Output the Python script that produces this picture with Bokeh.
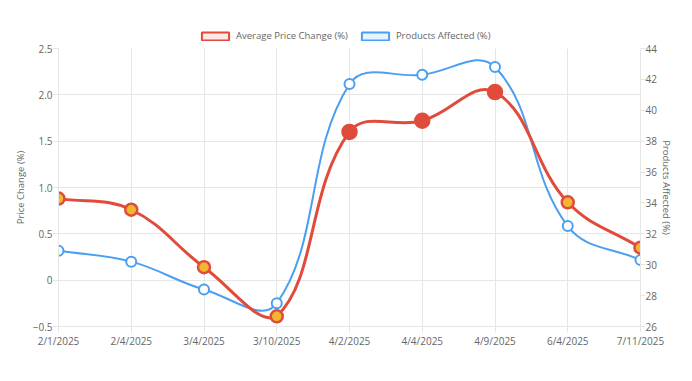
import numpy as np
from bokeh.plotting import figure
from bokeh.layouts import column
from bokeh.models import (Range1d, LinearAxis, Legend, LegendItem, ColumnDataSource,
                          FixedTicker, SingleIntervalTicker)
from bokeh.embed import file_html
from bokeh.resources import INLINE

dates = ["2/1/2025", "2/4/2025", "3/4/2025", "3/10/2025", "4/2/2025",
         "4/4/2025", "4/9/2025", "6/4/2025", "7/11/2025"]
price_change = [0.88, 0.76, 0.14, -0.39, 1.60, 1.72, 2.03, 0.84, 0.35]
products_affected = [30.9, 30.2, 28.4, 27.5, 41.7, 42.3, 42.8, 32.5, 30.3]

RED = "#e04b3b"
BLUE = "#4a9ff0"
YELLOW = "#f3b72f"
GRID = "#e6e6e6"
TXT = "#666666"
FONT = "Open Sans"

x = list(range(len(dates)))

W = 687
LEG_H = 42
p = figure(width=W, height=365 - LEG_H, output_backend="svg", toolbar_location=None,
           x_range=Range1d(0, len(dates) - 1), y_range=Range1d(-0.5, 2.5),
           min_border_left=58, min_border_right=47, min_border_top=48 - LEG_H,
           min_border_bottom=39)
p.extra_y_ranges = {"right": Range1d(26, 44)}
p.outline_line_color = None
p.background_fill_color = "white"
p.border_fill_color = "white"


def spline_controls(vals, sx, sy, t=0.4):
    pts = [(i * sx, v * sy) for i, v in enumerate(vals)]
    n = len(pts)
    prev_c, next_c = [], []
    for i in range(n):
        cur = pts[i]
        pr = pts[i - 1] if i > 0 else cur
        nx = pts[i + 1] if i < n - 1 else cur
        d01 = float(np.hypot(cur[0] - pr[0], cur[1] - pr[1]))
        d12 = float(np.hypot(nx[0] - cur[0], nx[1] - cur[1]))
        s = d01 + d12
        s01 = d01 / s if s else 0
        s12 = d12 / s if s else 0
        fa, fb = t * s01, t * s12
        prev_c.append(((cur[0] - fa * (nx[0] - pr[0])) / sx, (cur[1] - fa * (nx[1] - pr[1])) / sy))
        next_c.append(((cur[0] + fb * (nx[0] - pr[0])) / sx, (cur[1] + fb * (nx[1] - pr[1])) / sy))
    return prev_c, next_c


def add_curve(vals, sx, sy, lo, hi, color, width, rng=None):
    prev_c, next_c = spline_controls(vals, sx, sy)
    n = len(vals)
    src = ColumnDataSource(dict(
        x0=list(range(n - 1)), y0=vals[:-1], x1=list(range(1, n)), y1=vals[1:],
        cx0=[c[0] for c in next_c[:-1]], cy0=[min(max(c[1], lo), hi) for c in next_c[:-1]],
        cx1=[c[0] for c in prev_c[1:]], cy1=[min(max(c[1], lo), hi) for c in prev_c[1:]]))
    kw = dict(y_range_name=rng) if rng else {}
    p.bezier(x0="x0", y0="y0", x1="x1", y1="y1", cx0="cx0", cy0="cy0", cx1="cx1", cy1="cy1",
             source=src, line_color=color, line_width=width, **kw)


SX = 72.75
add_curve(products_affected, SX, 15.44, 26, 44, BLUE, 2, "right")
add_curve(price_change, SX, 92.67, -0.5, 2.5, RED, 3)

p.scatter(x, products_affected, y_range_name="right", size=10, fill_color="white",
          line_color=BLUE, line_width=2)

big = {4, 5, 6}
fills = [RED if i in big else YELLOW for i in x]
sizes = [14 if i in big else 12 for i in x]
p.scatter(x, price_change, size=sizes, fill_color=fills, line_color=RED, line_width=2.5)

# axes styling
p.xaxis.ticker = FixedTicker(ticks=x)
p.xaxis.major_label_overrides = {i: d for i, d in enumerate(dates)}
p.yaxis.ticker = SingleIntervalTicker(interval=0.5)
p.yaxis.major_label_overrides = {1: "1.0", 2: "2.0"}
p.yaxis.axis_label = "Price Change (%)"

raxis = LinearAxis(y_range_name="right", axis_label="Products Affected (%)",
                   ticker=SingleIntervalTicker(interval=2))
p.add_layout(raxis, "right")

for ax in [p.xaxis[0], p.yaxis[0], raxis]:
    ax.axis_line_color = GRID
    ax.major_tick_line_color = GRID
    ax.major_tick_out = 6
    ax.major_tick_in = 0
    ax.minor_tick_line_color = None
    ax.major_label_text_color = TXT
    ax.major_label_text_font = FONT
    ax.major_label_text_font_size = "10px"
    ax.axis_label_text_color = TXT
    ax.axis_label_text_font = FONT
    ax.axis_label_text_font_size = "9.5px"
    ax.axis_label_text_font_style = "normal"
    ax.major_label_standoff = 0
    ax.axis_label_standoff = 3

raxis.major_tick_out = 5
raxis.axis_label_standoff = 0
p.xaxis.major_label_standoff = 1

p.xgrid.ticker = FixedTicker(ticks=x)
p.xgrid.grid_line_color = GRID
p.ygrid.grid_line_color = GRID

# legend in a separate strip above the chart
lf = figure(width=W, height=LEG_H, output_backend="svg", toolbar_location=None,
            x_range=Range1d(0, 1), y_range=Range1d(0, 1),
            min_border=0)
lf.axis.visible = False
lf.grid.visible = False
lf.outline_line_color = None
proxy = ColumnDataSource(dict(left=[5], right=[6], top=[5], bottom=[6]))
r1 = lf.quad(left="left", right="right", top="top", bottom="bottom", source=proxy,
             fill_color=RED, fill_alpha=0.12, line_color=RED, line_width=2)
r2 = lf.quad(left="left", right="right", top="top", bottom="bottom", source=proxy,
             fill_color=BLUE, fill_alpha=0.12, line_color=BLUE, line_width=2)
legend = Legend(items=[LegendItem(label="Average Price Change (%)", renderers=[r1]),
                       LegendItem(label="Products Affected (%)", renderers=[r2])],
                orientation="horizontal", location=(140, 0),
                border_line_color=None, background_fill_alpha=0,
                label_text_font=FONT, label_text_font_size="9.5px",
                label_text_color=TXT, glyph_width=34, glyph_height=10,
                label_standoff=4, spacing=10, padding=0, margin=0,
                label_height=10)
lf.add_layout(legend)

layout = column(lf, p, spacing=0)
open("out.html", "w").write(file_html(layout, INLINE))
